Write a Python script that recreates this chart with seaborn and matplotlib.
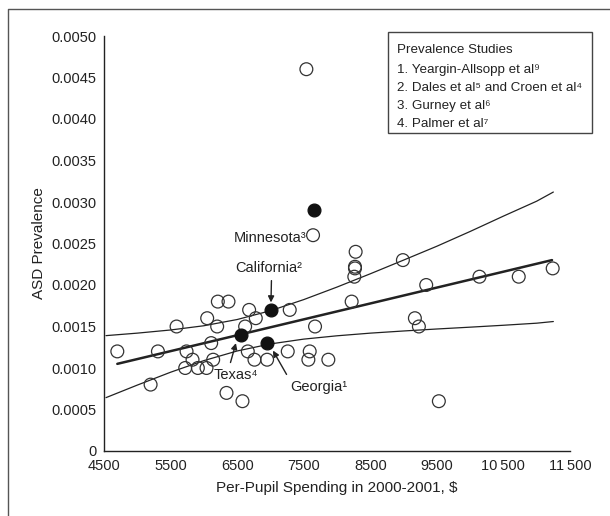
import matplotlib
matplotlib.use("Agg")
import matplotlib.pyplot as plt
from matplotlib.patches import Rectangle
from matplotlib.lines import Line2D
import seaborn as sns
import pandas as pd

# per-pupil spending ($) and ASD prevalence, one open circle per state
spend = [4700, 5200, 5310, 5590, 5740, 5830, 5720, 5910, 6040, 6140,
         6110, 6050, 6200, 6210, 6370, 6680, 6780, 6620, 6340, 6580,
         6660, 6760, 6950, 7290, 7260, 7590, 7570, 7870, 7670, 7640,
         8280, 8270, 8270, 8260, 8220, 8990, 9340, 10140, 10730, 11240,
         9530, 9170, 9230, 7540]
prev = [0.0012, 0.0008, 0.0012, 0.0015, 0.0012, 0.0011, 0.0010, 0.0010, 0.0010, 0.0011,
        0.0013, 0.0016, 0.0015, 0.0018, 0.0018, 0.0017, 0.0016, 0.0015, 0.0007, 0.0006,
        0.0012, 0.0011, 0.0011, 0.0017, 0.0012, 0.0012, 0.0011, 0.0011, 0.0015, 0.0026,
        0.0024, 0.0022, 0.00222, 0.0021, 0.0018, 0.0023, 0.0020, 0.0021, 0.0021, 0.0022,
        0.0006, 0.0016, 0.0015, 0.0046]

# states with prevalence studies (filled)
study_states = ["Georgia", "California", "Minnesota", "Texas"]
study_refs = ["\u00b9", "\u00b2", "\u00b3", "\u2074"]
study_spend = [6952, 7008, 7658, 6562]
study_prev = [0.0013, 0.0017, 0.0029, 0.0014]

# fitted line and band
fit_x = [4700, 11230]
fit_y = [0.00105, 0.0023]
band_x = [4530, 5000, 5500, 6000, 6500, 7000, 7500, 8000, 8500, 9000,
          9500, 10000, 10500, 11000, 11250]
band_upper = [0.00139, 0.00142, 0.001458, 0.001509, 0.001584, 0.00169, 0.001824, 0.001975,
              0.002135, 0.0023, 0.002467, 0.002645, 0.00283, 0.00301, 0.00312]
band_lower = [0.000643, 0.000794, 0.000949, 0.001089, 0.001205, 0.00129, 0.001348, 0.001388,
              0.00142, 0.001446, 0.00147, 0.001492, 0.001515, 0.00154, 0.00156]

legend_lines = ["Prevalence Studies",
                "1. Yeargin-Allsopp et al\u2079",
                "2. Dales et al\u2075 and Croen et al\u2074",
                "3. Gurney et al\u2076",
                "4. Palmer et al\u2077"]

x_ticks = [4500, 5500, 6500, 7500, 8500, 9500, 10500, 11500]
x_labels = ["4500", "5500", "6500", "7500", "8500", "9500", "10\u2009500", "11\u2009500"]
y_ticks = [0, 0.0005, 0.0010, 0.0015, 0.0020, 0.0025, 0.0030, 0.0035, 0.0040, 0.0045, 0.0050]
y_labels = ["0"] + [f"{v:.4f}" for v in y_ticks[1:]]

sns.set_style("white")
plt.rcParams["font.family"] = ["Liberation Sans", "DejaVu Sans"]
ink = "#222222"

fig = plt.figure(figsize=(6.10, 5.16), dpi=100)
ax = fig.add_axes([104 / 610, 65 / 516, 466 / 610, 415 / 516])

df = pd.DataFrame({"spend": spend, "prev": prev})
sd = pd.DataFrame({"spend": study_spend, "prev": study_prev})

ax.plot(band_x, band_upper, color=ink, lw=0.9, zorder=2)
ax.plot(band_x, band_lower, color=ink, lw=0.9, zorder=2)
ax.plot(fit_x, fit_y, color=ink, lw=1.8, zorder=2)

sns.scatterplot(data=df, x="spend", y="prev", ax=ax, s=85, marker="o",
                facecolor="none", edgecolor="#333333", linewidth=0.9, zorder=3)
sns.scatterplot(data=sd, x="spend", y="prev", ax=ax, s=85, marker="o",
                color="#111111", edgecolor="#111111", linewidth=0.9, zorder=4)

ax.set_xlim(4500, 11500)
ax.set_ylim(0, 0.0050)
ax.set_xticks(x_ticks)
ax.set_xticklabels(x_labels)
ax.set_yticks(y_ticks)
ax.set_yticklabels(y_labels)
ax.tick_params(axis="both", direction="out", length=4, width=1, color=ink,
               labelsize=10.5, labelcolor=ink, pad=1.5)
for side in ["top", "right"]:
    ax.spines[side].set_visible(False)
for side in ["left", "bottom"]:
    ax.spines[side].set_color(ink)
    ax.spines[side].set_linewidth(1)
ax.set_xlabel("Per-Pupil Spending in 2000-2001, $", fontsize=11, color=ink, labelpad=6)
ax.set_ylabel("ASD Prevalence", fontsize=11, color=ink, labelpad=4)

arrow = dict(arrowstyle="-|>", color=ink, lw=1, mutation_scale=9, shrinkA=2, shrinkB=0)
names = dict(zip(study_states, [s + r for s, r in zip(study_states, study_refs)]))
ax.text(6993, 0.00257, names["Minnesota"], ha="center", va="center", fontsize=10.5, color=ink)
ax.annotate(names["California"], xy=(7008, 0.00179), xytext=(6977, 0.00221),
            ha="center", va="center", fontsize=10.5, color=ink,
            arrowprops=dict(arrow, relpos=(0.54, 0.0)))
ax.annotate(names["Texas"], xy=(6482, 0.0013), xytext=(6482, 0.00091),
            ha="center", va="center", fontsize=10.5, color=ink,
            arrowprops=dict(arrow, relpos=(0.34, 1.0)))
ax.annotate(names["Georgia"], xy=(7038, 0.00121), xytext=(7720, 0.00077),
            ha="center", va="center", fontsize=10.5, color=ink,
            arrowprops=dict(arrow, relpos=(0.0, 1.0)))

# legend box with the study list
fig.patches.append(Rectangle((388 / 610, 1 - 133 / 516), 204 / 610, 101 / 516,
                             transform=fig.transFigure, fill=False,
                             edgecolor="#444444", lw=1))
for txt, yp in zip(legend_lines, [50, 70, 88, 106, 124]):
    fig.text(397 / 610, 1 - yp / 516, txt, ha="left", va="center", fontsize=9.6, color=ink)

# outer frame (left and top)
fig.lines.append(Line2D([8 / 610, 8 / 610, 1.0], [0.0, 1 - 9 / 516, 1 - 9 / 516],
                        transform=fig.transFigure, color="#555555", lw=1))

fig.savefig("out.png", dpi=100)
